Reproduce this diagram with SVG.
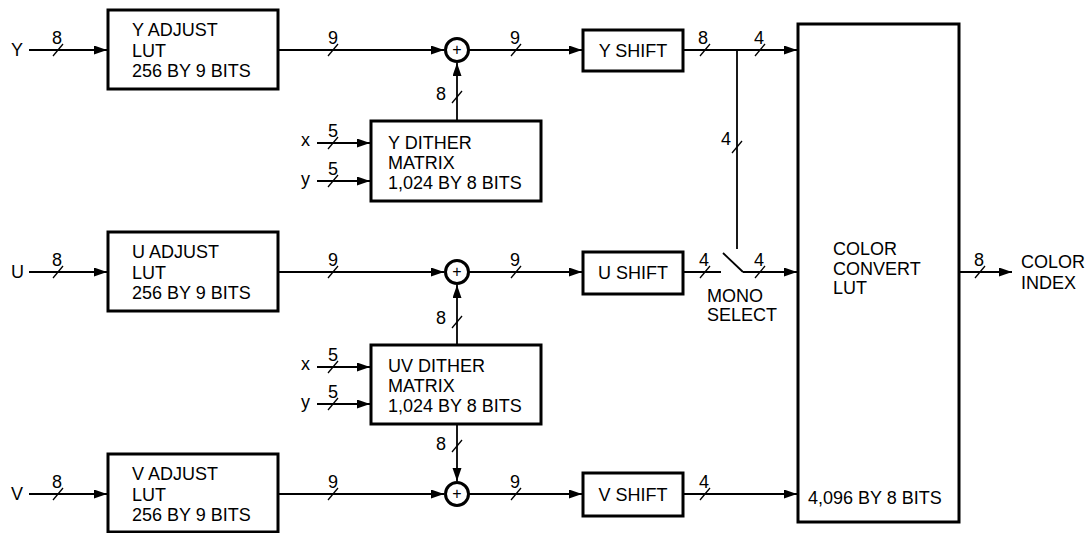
<svg xmlns="http://www.w3.org/2000/svg" width="1090" height="533" viewBox="0 0 1090 533">
<style>
text{font-family:"Liberation Sans",Arial,sans-serif;fill:#000}
.t{font-size:18px}
.n{font-size:18px;text-anchor:middle}
.box{fill:#fff;stroke:#000;stroke-width:3}
.w{fill:none;stroke:#000;stroke-width:1.8}
.a{marker-end:url(#ah)}
.s{fill:none;stroke:#000;stroke-width:1.3}
.sum{fill:#fff;stroke:#000;stroke-width:3}
.p{font-size:16px;text-anchor:middle}
</style>
<defs>
<marker id="ah" markerUnits="userSpaceOnUse" markerWidth="14" markerHeight="10" refX="13" refY="4.5" orient="auto">
<path d="M0,0 L13,4.5 L0,9 z" fill="#000"/>
</marker>
</defs>

<g id="connectors">
<!-- inputs -->
<line class="w a" x1="29" y1="50" x2="107" y2="50"/>
<line class="w a" x1="29" y1="272" x2="107" y2="272"/>
<line class="w a" x1="29" y1="494" x2="107" y2="494"/>
<!-- LUT to sum -->
<line class="w a" x1="278" y1="50" x2="444" y2="50"/>
<line class="w a" x1="278" y1="272" x2="444" y2="272"/>
<line class="w a" x1="278" y1="494" x2="444" y2="494"/>
<!-- sum to shift -->
<line class="w a" x1="469" y1="50" x2="582" y2="50"/>
<line class="w a" x1="469" y1="272" x2="582" y2="272"/>
<line class="w a" x1="469" y1="494" x2="582" y2="494"/>
<!-- dither to sums -->
<line class="w a" x1="457" y1="121" x2="457" y2="63"/>
<line class="w a" x1="457" y1="345" x2="457" y2="285"/>
<line class="w a" x1="457" y1="424" x2="457" y2="481"/>
<!-- dither x/y inputs -->
<line class="w a" x1="317" y1="143" x2="370" y2="143"/>
<line class="w a" x1="317" y1="181" x2="370" y2="181"/>
<line class="w a" x1="317" y1="367" x2="370" y2="367"/>
<line class="w a" x1="317" y1="404" x2="370" y2="404"/>
<!-- shift outputs -->
<line class="w a" x1="683" y1="50" x2="797" y2="50"/>
<line class="w" x1="737" y1="50" x2="737" y2="249"/>
<line class="w" x1="683" y1="272" x2="721" y2="272"/>
<line class="w" x1="723" y1="253" x2="743" y2="272"/>
<line class="w a" x1="743" y1="272" x2="797" y2="272"/>
<line class="w a" x1="683" y1="494" x2="797" y2="494"/>
<!-- output -->
<line class="w a" x1="959" y1="272" x2="1012" y2="272"/>

<!-- bus slashes -->
<line class="s" x1="53" y1="56" x2="63" y2="44"/>
<line class="s" x1="53" y1="278" x2="63" y2="266"/>
<line class="s" x1="53" y1="500" x2="63" y2="488"/>
<line class="s" x1="328" y1="56" x2="338" y2="44"/>
<line class="s" x1="328" y1="278" x2="338" y2="266"/>
<line class="s" x1="328" y1="500" x2="338" y2="488"/>
<line class="s" x1="511" y1="56" x2="521" y2="44"/>
<line class="s" x1="511" y1="278" x2="521" y2="266"/>
<line class="s" x1="511" y1="500" x2="521" y2="488"/>
<line class="s" x1="328" y1="149" x2="338" y2="137"/>
<line class="s" x1="328" y1="187" x2="338" y2="175"/>
<line class="s" x1="328" y1="373" x2="338" y2="361"/>
<line class="s" x1="328" y1="410" x2="338" y2="398"/>
<line class="s" x1="452" y1="103" x2="462" y2="91"/>
<line class="s" x1="452" y1="328" x2="462" y2="316"/>
<line class="s" x1="452" y1="452" x2="462" y2="440"/>
<line class="s" x1="700" y1="56" x2="710" y2="44"/>
<line class="s" x1="755" y1="56" x2="765" y2="44"/>
<line class="s" x1="732" y1="153" x2="742" y2="141"/>
<line class="s" x1="700" y1="278" x2="710" y2="266"/>
<line class="s" x1="755" y1="278" x2="765" y2="266"/>
<line class="s" x1="700" y1="500" x2="710" y2="488"/>
<line class="s" x1="975" y1="278" x2="985" y2="266"/>

<!-- bus width labels -->
<text class="n" x="57" y="43.5">8</text>
<text class="n" x="57" y="265.5">8</text>
<text class="n" x="57" y="487.5">8</text>
<text class="n" x="333" y="44">9</text>
<text class="n" x="333" y="266">9</text>
<text class="n" x="333" y="488">9</text>
<text class="n" x="515" y="44">9</text>
<text class="n" x="515" y="266">9</text>
<text class="n" x="515" y="488">9</text>
<text class="n" x="333" y="137">5</text>
<text class="n" x="333" y="175">5</text>
<text class="n" x="333" y="361">5</text>
<text class="n" x="333" y="398">5</text>
<text class="n" x="441" y="100">8</text>
<text class="n" x="441" y="324">8</text>
<text class="n" x="441" y="450">8</text>
<text class="n" x="703" y="44">8</text>
<text class="n" x="759" y="44">4</text>
<text class="n" x="726" y="145">4</text>
<text class="n" x="704" y="266">4</text>
<text class="n" x="759" y="266">4</text>
<text class="n" x="704" y="488">4</text>
<text class="n" x="979" y="266">8</text>

<!-- input letters -->
<text class="t" x="11" y="56">Y</text>
<text class="t" x="11" y="278">U</text>
<text class="t" x="11" y="500">V</text>
<text class="t" x="310" y="146" text-anchor="end">x</text>
<text class="t" x="310" y="185" text-anchor="end">y</text>
<text class="t" x="310" y="370" text-anchor="end">x</text>
<text class="t" x="310" y="408" text-anchor="end">y</text>
<text class="t" x="707" y="302">MONO</text>
<text class="t" x="707" y="321">SELECT</text>
<text class="t" x="1021" y="268">COLOR</text>
<text class="t" x="1021" y="289">INDEX</text>
</g>

<g id="y-adjust">
<rect class="box" x="108" y="10" width="170" height="79"/>
<text class="t" x="132" y="36">Y ADJUST</text>
<text class="t" x="132" y="56.5">LUT</text>
<text class="t" x="132" y="77">256 BY 9 BITS</text>
</g>
<g id="u-adjust">
<rect class="box" x="108" y="232" width="170" height="79"/>
<text class="t" x="132" y="258">U ADJUST</text>
<text class="t" x="132" y="278.5">LUT</text>
<text class="t" x="132" y="299">256 BY 9 BITS</text>
</g>
<g id="v-adjust">
<rect class="box" x="108" y="454" width="170" height="78"/>
<text class="t" x="132" y="480">V ADJUST</text>
<text class="t" x="132" y="500.5">LUT</text>
<text class="t" x="132" y="521">256 BY 9 BITS</text>
</g>

<g id="y-dither">
<rect class="box" x="371" y="121" width="170" height="80"/>
<text class="t" x="388" y="149">Y DITHER</text>
<text class="t" x="388" y="169">MATRIX</text>
<text class="t" x="388" y="189">1,024 BY 8 BITS</text>
</g>
<g id="uv-dither">
<rect class="box" x="371" y="345" width="170" height="79"/>
<text class="t" x="388" y="372">UV DITHER</text>
<text class="t" x="388" y="392">MATRIX</text>
<text class="t" x="388" y="412">1,024 BY 8 BITS</text>
</g>

<g id="sum-y">
<circle class="sum" cx="457" cy="50" r="11.5"/>
<text class="p" x="457" y="55">+</text>
</g>
<g id="sum-u">
<circle class="sum" cx="457" cy="272" r="11.5"/>
<text class="p" x="457" y="277">+</text>
</g>
<g id="sum-v">
<circle class="sum" cx="457" cy="494" r="11.5"/>
<text class="p" x="457" y="499">+</text>
</g>

<g id="y-shift">
<rect class="box" x="583" y="30" width="100" height="41"/>
<text class="t" x="633" y="56.5" text-anchor="middle">Y SHIFT</text>
</g>
<g id="u-shift">
<rect class="box" x="583" y="252" width="100" height="42"/>
<text class="t" x="633" y="278.5" text-anchor="middle">U SHIFT</text>
</g>
<g id="v-shift">
<rect class="box" x="583" y="473" width="100" height="43"/>
<text class="t" x="633" y="500.5" text-anchor="middle">V SHIFT</text>
</g>

<g id="color-convert">
<rect class="box" x="798" y="24" width="161" height="498" stroke-width="3.5"/>
<text class="t" x="833" y="255">COLOR</text>
<text class="t" x="833" y="274.5">CONVERT</text>
<text class="t" x="833" y="294">LUT</text>
<text class="t" x="808" y="504">4,096 BY 8 BITS</text>
</g>
</svg>
